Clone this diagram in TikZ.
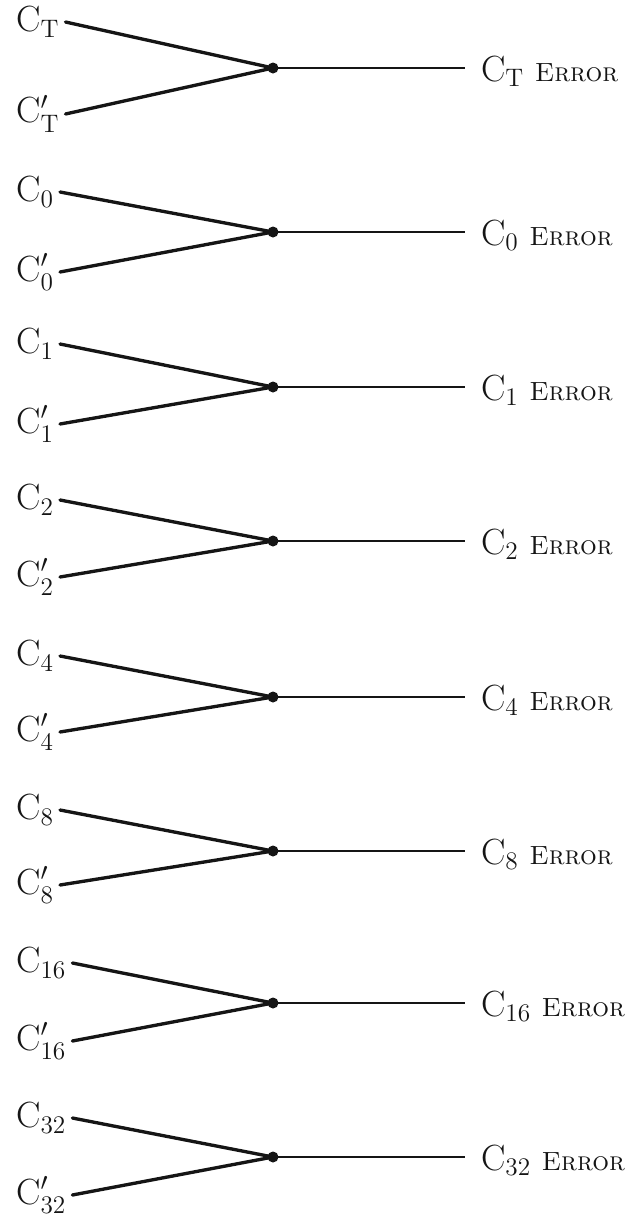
\documentclass[tikz,border=0pt]{standalone}
\usepackage{amsmath,amssymb}
\usetikzlibrary{arrows.meta,calc}
\definecolor{ink}{HTML}{151515}

\begin{document}
\begin{tikzpicture}[>=Stealth,x=0.02cm,y=-0.02cm,
  lead/.style={line width=1.9pt,ink,line cap=round},
  outline/.style={line width=1.2pt,ink},
  inlbl/.style={font=\fontsize{21}{24}\selectfont,text=ink,anchor=west},
  errlbl/.style={font=\fontsize{21}{24}\selectfont,text=ink,anchor=base west,inner xsep=9pt}]
  \useasboundingbox (0,0) rectangle (640,1221);
  \foreach \s/\Y/\u/\d in {T/68/46/46, 0/232/40/40, 1/387/43/37, 2/541/41/36,
                           4/697/41/35, 8/851/41/34, 16/1003/40/38, 32/1157/39/38} {
    \coordinate (J\s) at (273,\Y);
    \node[inlbl] (in\s) at (10,\Y-\u) {$\mathrm{C}_{\mathrm{\s}}$};
    \node[inlbl] (inp\s) at (10,\Y+\d) {$\mathrm{C}'_{\mathrm{\s}}$};
    \node[errlbl] (err\s) at (465,\Y+13) {$\mathrm{C}_{\mathrm{\s}}$\hspace{6pt}{\fontsize{15}{18}\selectfont\textsc{Error}}};
    \draw[lead] (in\s.east) -- (J\s);
    \draw[lead] (inp\s.east) -- (J\s);
    \draw[outline] (J\s) -- (J\s -| err\s.west);
    \fill[ink] (J\s) circle (5.5);
  }
\end{tikzpicture}
\end{document}
